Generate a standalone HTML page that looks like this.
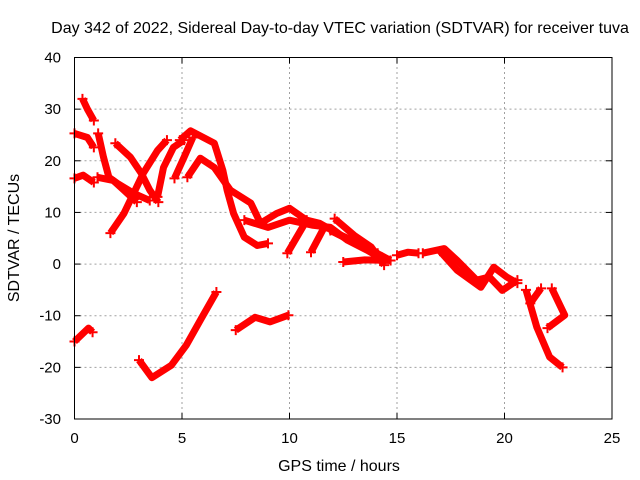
<!DOCTYPE html>
<html><head><meta charset="utf-8">
<style>
html,body{margin:0;padding:0;background:#fff;}
svg{display:block;font-family:"Liberation Sans",sans-serif;}
</style></head>
<body>
<svg id="chart" width="640" height="480" viewBox="0 0 640 480">
<rect width="640" height="480" fill="#fff"/>
<text x="340" y="33" font-size="16" text-anchor="middle" fill="#000">Day 342 of 2022, Sidereal Day-to-day VTEC variation (SDTVAR) for receiver tuva</text>
<text x="339" y="471" font-size="16" text-anchor="middle" fill="#000">GPS time / hours</text>
<text transform="translate(19,238) rotate(-90)" font-size="16" text-anchor="middle" fill="#000">SDTVAR / TECUs</text>
<g id="grid"></g>
<g id="series"></g>
<rect x="74.5" y="57.5" width="537.5" height="361.5" fill="none" stroke="#000" stroke-width="1"/>
<g id="ticks"></g>
</svg>
<script>
const xTicks=[0,5,10,15,20,25];
const yTicks=[-30,-20,-10,0,10,20,30,40];
const track01=[[0.37,32],[0.6,30],[0.9,27.8]];
const track02=[[0,25.3],[0.6,24.5],[0.9,22.6]];
const track03=[[0,16.6],[0.4,17.2],[0.9,15.8]];
const track04=[[1.1,25.3],[1.35,20.7],[1.6,16.8],[2.0,15.6],[2.75,13.7],[3.5,12.3]];
const track05=[[1.07,16.8],[1.8,16.2],[2.3,14.3],[2.9,12]];
const track06=[[1.9,23.4],[2.6,20.7],[3.1,17.6],[3.5,14.3],[3.9,12]];
const track07=[[1.67,6],[2.3,9.8],[3.2,17.6],[3.86,22],[4.3,24]];
const track08=[[3.86,13],[4.14,18.7],[4.6,22.6],[5.1,24]];
const track09=[[4.65,16.6],[5.1,20.7],[5.5,24.5]];
const track10=[[4.9,24],[5.4,25.8],[6.5,23.4],[6.9,18.1],[7.1,14.3],[7.4,9.8],[7.9,5.2],[8.5,3.6],[9,4]];
const track11=[[5.25,16.8],[5.85,20.5],[6.5,18.7],[7.25,14.3],[8.2,11.8],[8.65,7.9],[9.4,9.8],[10,10.8],[10.8,8.5],[11.4,7.9],[12.2,6],[13.2,4],[14.1,2.1]];
const track12=[[7.9,8.5],[9,7.1],[10,8.5],[11.1,7.5],[11.9,7.1],[12.7,4.6],[13.6,2.7],[14.2,1.3]];
const track13=[[9.9,2.1],[10.8,8.5]];
const track14=[[11,2.3],[11.6,7]];
const track15=[[12.1,8.8],[13,5.6],[13.8,3.3],[14.4,-0.2]];
const track16=[[11.9,6.5],[12.8,4.6],[13.8,2.7],[14.7,0.7]];
const track17=[[12.5,0.4],[13.5,0.8],[14.7,0.7]];
const track18=[[15,1.7],[15.5,2.3],[16,2.1]];
const track19=[[16.2,2.1],[17.2,3],[17.8,0.7],[18.7,-3.1],[19.3,-2.5],[19.9,-5.1],[20.6,-3.1]];
const track20=[[17,2.5],[17.8,-1.2],[18.9,-4.5],[19.5,-0.6],[20.1,-2.5],[20.6,-3.7]];
const track21=[[21,-5],[21.5,-12.2],[22.1,-18],[22.7,-20]];
const track22=[[21.7,-4.7],[21.2,-7.6]];
const track23=[[22.2,-4.7],[22.8,-9.9],[22,-12.4]];
const track24=[[0,-15],[0.65,-12.4],[0.84,-13.2]];
const track25=[[3,-18.6],[3.6,-22],[4.5,-19.6],[5.2,-15.7],[5.9,-10.5],[6.6,-5.4]];
const track26=[[7.5,-12.8],[8.4,-10.3],[9.1,-11.2],[9.95,-9.9]];
const tracks=[track01,track02,track03,track04,track05,track06,track07,track08,track09,track10,track11,track12,track13,track14,track15,track16,track17,track18,track19,track20,track21,track22,track23,track24,track25,track26];

const X0=74.5,X1=612,Y0=419,Y1=57.5;
const xs=h=>X0+(h-0)/(25-0)*(X1-X0);
const ys=v=>Y0-(v+30)/(70)*(Y0-Y1);
const NS='http://www.w3.org/2000/svg';
const grid=document.getElementById('grid'),ticks=document.getElementById('ticks'),ser=document.getElementById('series');
function mk(t,a){const e=document.createElementNS(NS,t);for(const k in a)e.setAttribute(k,a[k]);return e;}
xTicks.forEach(t=>{
  const x=xs(t);
  if(t>0&&t<25){const g=mk('line',{x1:x,x2:x,y1:Y0,y2:Y1,stroke:'#a0a0a0','stroke-dasharray':'2,3'});
  
  grid.appendChild(g);}
  const tl=mk('text',{x:x,y:443,'font-size':15,'text-anchor':'middle',fill:'#000'});tl.textContent=t;
  
  ticks.appendChild(tl);
  ticks.appendChild(mk('line',{x1:x,x2:x,y1:Y0,y2:Y0-6,stroke:'#000'}));
  ticks.appendChild(mk('line',{x1:x,x2:x,y1:Y1,y2:Y1+6,stroke:'#000'}));
});
yTicks.forEach(t=>{
  const y=ys(t);
  if(t>-30&&t<40){const g=mk('line',{x1:X0,x2:X1,y1:y,y2:y,stroke:'#a0a0a0','stroke-dasharray':'2,3'});
  
  grid.appendChild(g);}
  const tl=mk('text',{x:61,y:y+5,'font-size':15,'text-anchor':'end',fill:'#000'});tl.textContent=t;
  
  ticks.appendChild(tl);
  ticks.appendChild(mk('line',{x1:X0,x2:X0+6,y1:y,y2:y,stroke:'#000'}));
  ticks.appendChild(mk('line',{x1:X1,x2:X1-6,y1:y,y2:y,stroke:'#000'}));
});
tracks.forEach((tr,i)=>{
  const pts=tr.map(p=>xs(p[0]).toFixed(1)+','+ys(p[1]).toFixed(1)).join(' ');
  const pl=mk('polyline',{points:pts,fill:'none',stroke:'#ff0000','stroke-width':7,'stroke-linejoin':'round','stroke-linecap':'butt'});
  
  
  ser.appendChild(pl);
  [tr[0],tr[tr.length-1]].forEach(p=>{
    const cx=xs(p[0]),cy=ys(p[1]);
    ser.appendChild(mk('path',{d:`M${cx-5},${cy}H${cx+5}M${cx},${cy-5}V${cy+5}`,stroke:'#ff0000','stroke-width':2}));
  });
});
</script>
</body></html>
